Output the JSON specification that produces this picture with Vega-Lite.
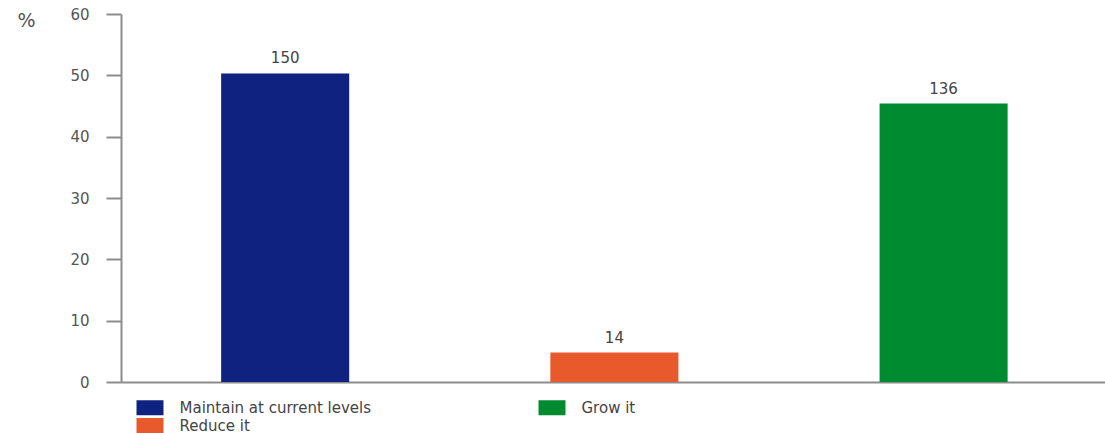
{
  "$schema": "https://vega.github.io/schema/vega-lite/v6.json",
  "width": 984,
  "height": 368,
  "autosize": {"type": "none"},
  "padding": {"left": 121, "top": 14, "right": 0, "bottom": 51},
  "background": "white",
  "config": {"view": {"stroke": null}, "font": "DejaVu Sans"},
  "data": {
    "values": [
      {"answer": "Maintain at current levels", "pct": 50.3, "count": 150},
      {"answer": "Reduce it", "pct": 4.8, "count": 14},
      {"answer": "Grow it", "pct": 45.4, "count": 136}
    ]
  },
  "encoding": {
    "x": {
      "field": "answer",
      "type": "nominal",
      "sort": ["Maintain at current levels", "Reduce it", "Grow it"],
      "scale": {"paddingInner": 0.611, "paddingOuter": 0.3, "align": 0.507},
      "axis": {"labels": false, "ticks": false, "title": null, "domainColor": "#8c8c8c", "domainWidth": 2}
    },
    "y": {
      "field": "pct",
      "type": "quantitative",
      "scale": {"domain": [0, 60], "nice": false},
      "axis": {
        "values": [0, 10, 20, 30, 40, 50, 60],
        "grid": false,
        "tickSize": 15,
        "tickColor": "#8c8c8c",
        "tickWidth": 2,
        "domainColor": "#8c8c8c",
        "domainWidth": 2,
        "labelPadding": 17,
        "labelFontSize": 15,
        "labelColor": "#555555",
        "title": "%",
        "titleAngle": 0,
        "titleAlign": "left",
        "titleBaseline": "middle",
        "titleX": -104,
        "titleY": 6,
        "titleFontSize": 19,
        "titleFontWeight": "normal",
        "titleColor": "#555555"
      }
    }
  },
  "layer": [
    {
      "mark": {"type": "bar"},
      "encoding": {
        "color": {
          "field": "answer",
          "type": "nominal",
          "scale": {
            "domain": ["Maintain at current levels", "Grow it", "Reduce it"],
            "range": ["#0f2280", "#008b30", "#e85a2c"]
          },
          "legend": {
            "title": null,
            "orient": "none",
            "legendX": 21.5,
            "legendY": 386,
            "columns": 2,
            "direction": "horizontal",
            "symbolType": "M-1.8,-1H1.8V1H-1.8Z",
            "symbolSize": 225,
            "symbolStrokeWidth": 0,
            "symbolOpacity": 1,
            "labelFontSize": 15,
            "labelLimit": 0,
            "labelColor": "#444444",
            "labelOffset": 22,
            "rowPadding": 2,
            "columnPadding": 167,
            "padding": 0
          }
        }
      }
    },
    {
      "mark": {"type": "text", "baseline": "bottom", "dy": -7, "fontSize": 15, "color": "#444444"},
      "encoding": {"text": {"field": "count", "type": "quantitative"}}
    }
  ]
}
